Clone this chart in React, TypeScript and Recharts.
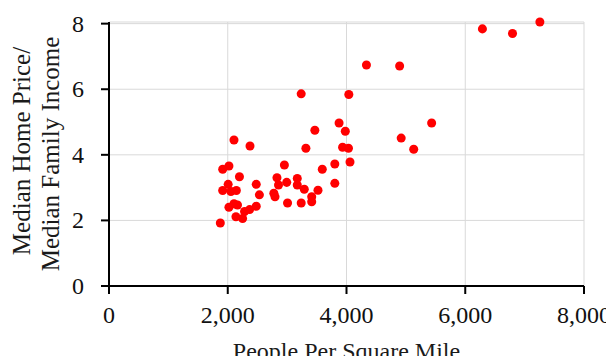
import React from 'react';
import { ScatterChart, Scatter, XAxis, YAxis, ZAxis, CartesianGrid } from 'recharts';

// people per square mile
const density = [
  1875, 1915, 1915, 2020, 2007, 2053, 2145, 2105, 2197, 2020,
  2105, 2164, 2138, 2250, 2283, 2368, 2480, 2375, 2480, 2533,
  2776, 2796, 2829, 2855, 2954, 2993, 3007, 3171, 3171, 3289,
  3237, 3237, 3316, 3414, 3414, 3520, 3467, 3592, 3803, 3803,
  3875, 3934, 3980, 4033, 4039, 4059, 4336, 4895, 4921, 5132,
  5434, 6289, 6796, 7257,
];

// median home price / median family income
const ratio = [
  1.92, 2.91, 3.56, 3.66, 3.10, 2.88, 2.91, 4.45, 3.33, 2.40,
  2.51, 2.47, 2.11, 2.06, 2.27, 2.33, 2.43, 4.27, 3.10, 2.78,
  2.83, 2.72, 3.30, 3.08, 3.69, 3.16, 2.53, 3.28, 3.08, 2.95,
  5.86, 2.53, 4.20, 2.57, 2.72, 2.92, 4.75, 3.56, 3.72, 3.13,
  4.97, 4.23, 4.72, 4.20, 5.84, 3.78, 6.74, 6.71, 4.51, 4.17,
  4.97, 7.84, 7.70, 8.05,
];

const xTicks = [0, 2000, 4000, 6000, 8000];
const yTicks = [0, 2, 4, 6, 8];

const points = density.map((x, i) => ({ x, y: ratio[i] }));

const FONT = '"Liberation Serif", "DejaVu Serif", serif';

function XTick({ x, y, payload }: any) {
  return (
    <text x={x} y={y} dy={19} textAnchor="middle" dominantBaseline="central" fontFamily={FONT} fontSize={24} fill="#111">
      {Number(payload.value).toLocaleString('en-US')}
    </text>
  );
}

function YTick({ x, y, payload }: any) {
  return (
    <text x={x} y={y} dx={-15} textAnchor="end" dominantBaseline="central" fontFamily={FONT} fontSize={24} fill="#111">
      {payload.value}
    </text>
  );
}

function YLabel({ viewBox }: any) {
  const cy = viewBox.y + viewBox.height / 2;
  return (
    <g fontFamily={FONT} fontSize={25} fill="#1a1a1a">
      <text x={21} y={cy - 3} textAnchor="middle" dominantBaseline="central" transform={`rotate(-90 21 ${cy - 3})`}>
        Median Home Price/
      </text>
      <text x={50} y={cy} textAnchor="middle" dominantBaseline="central" transform={`rotate(-90 50 ${cy})`}>
        Median Family Income
      </text>
    </g>
  );
}

function XLabel({ viewBox }: any) {
  const cx = viewBox.x + viewBox.width / 2;
  return (
    <text x={cx} y={351} textAnchor="middle" dominantBaseline="central" fontFamily={FONT} fontSize={24} fill="#1a1a1a">
      People Per Square Mile
    </text>
  );
}

export default function App() {
  return (
    <div style={{ margin: -8, width: 614, height: 364, background: '#fff', overflow: 'hidden' }}>
      <ScatterChart width={614} height={364} margin={{ top: 22, right: 30, bottom: 0, left: 0 }}>
        <CartesianGrid stroke="#d9d9d9" strokeWidth={1} />
        <XAxis
          type="number"
          dataKey="x"
          domain={[0, 8000]}
          ticks={xTicks}
          height={78}
          tick={<XTick />}
          axisLine={{ stroke: '#000', strokeWidth: 2 }}
          tickLine={{ stroke: '#000', strokeWidth: 2 }}
          tickSize={8}
          tickMargin={2}
          label={<XLabel />}
        />
        <YAxis
          type="number"
          dataKey="y"
          domain={[0, 8]}
          ticks={yTicks}
          width={109}
          tick={<YTick />}
          axisLine={{ stroke: '#000', strokeWidth: 2 }}
          tickLine={{ stroke: '#000', strokeWidth: 2 }}
          tickSize={8}
          tickMargin={2}
          label={<YLabel />}
        />
        <ZAxis range={[85, 85]} />
        <Scatter data={points} fill="#ff0000" isAnimationActive={false} />
      </ScatterChart>
    </div>
  );
}
